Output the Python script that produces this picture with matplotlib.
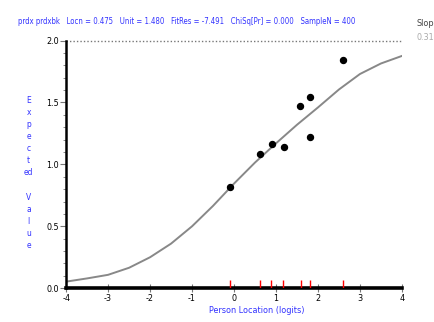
import matplotlib
matplotlib.use("Agg")
from matplotlib import pyplot as plt
from matplotlib.ticker import MultipleLocator

plt.rcParams['font.family'] = ['DejaVu Sans']
plt.rcParams['font.stretch'] = 'condensed'

# expected-value curve
curve_x = [-4, -3.5, -3, -2.5, -2, -1.5, -1, -0.5, 0, 0.5, 1, 1.5, 2, 2.5, 3, 3.5, 4]
curve_y = [0.053, 0.079, 0.108, 0.165, 0.25, 0.36, 0.50, 0.665, 0.845, 1.015, 1.17, 1.32,
           1.46, 1.605, 1.73, 1.815, 1.876]

# observed class means
obs_x = [-0.09, 0.63, 0.90, 1.18, 1.58, 1.80, 1.80, 2.60]
obs_y = [0.82, 1.087, 1.168, 1.144, 1.475, 1.548, 1.225, 1.847]

# person locations shown as red ticks
person_x = [-0.10, 0.63, 0.88, 1.17, 1.59, 1.80, 2.60]

header = "prdx prdxbk   Locn = 0.475   Unit = 1.480   FitRes = -7.491   ChiSq[Pr] = 0.000   SampleN = 400"

fig = plt.figure(figsize=(4.35, 3.22), dpi=100)
ax = fig.add_axes([0.152, 0.105, 0.772, 0.769])

ax.plot(curve_x, curve_y, color='#888888', lw=1.4, zorder=2)
ax.plot(obs_x, obs_y, 'o', color='black', ms=4.3, zorder=3)
ax.vlines(person_x, 0, 0.035, color='red', lw=1.0,
          transform=ax.get_xaxis_transform(), zorder=4)
ax.plot([-4, 4], [2.0, 2.0], color='#777777', lw=1.0, ls=(0, (1, 1.5)), clip_on=False)

ax.set_xlim(-4, 4)
ax.set_ylim(0, 2.0)
ax.xaxis.set_major_locator(MultipleLocator(1))
ax.yaxis.set_major_locator(MultipleLocator(0.5))
ax.yaxis.set_minor_locator(MultipleLocator(0.1))
ax.xaxis.set_major_formatter(plt.FuncFormatter(lambda v, p: '%d' % v))
ax.yaxis.set_major_formatter(plt.FuncFormatter(lambda v, p: '%.1f' % v))

for s in ['top', 'right']:
    ax.spines[s].set_visible(False)
ax.spines['left'].set_linewidth(1.8)
ax.spines['bottom'].set_linewidth(2.6)

ax.tick_params(axis='y', which='major', length=4, width=0.8, color='#777777',
               labelsize=6.5, pad=1)
ax.tick_params(axis='y', which='minor', length=2, width=0.6, color='#777777')
ax.tick_params(axis='x', which='major', length=6, width=0.8, color='#777777',
               direction='inout', labelsize=6.5, pad=1)

fig.text(0.59, 0.022, 'Person Location (logits)', color='#3333ff', fontsize=6.5,
         ha='center', va='bottom')
fig.text(0.066, 0.463, "E\nx\np\ne\nc\nt\ned\n\nV\na\nl\nu\ne", color='#3333ff',
         fontsize=6, ha='center', va='center', linespacing=1.45)
fig.text(0.041, 0.933, header, color='#3333ff', fontsize=5.6, ha='left', va='center')
fig.text(0.958, 0.928, 'Slope', color='#444444', fontsize=6.5, ha='left', va='center')
fig.text(0.958, 0.885, '0.31', color='#aaaaaa', fontsize=6.5, ha='left', va='center')

fig.savefig('out.png', dpi=100)
